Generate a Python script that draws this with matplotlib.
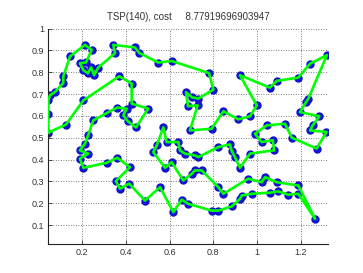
import matplotlib
matplotlib.use("Agg")
import matplotlib.pyplot as plt

title_text = "TSP(140), cost     8.77919696903947"

tour_x = [0.044, 0.044, 0.045, 0.052, 0.075, 0.113, 0.113, 0.144, 0.212, 0.243,
          0.217, 0.189, 0.205, 0.226, 0.240, 0.254, 0.273, 0.350, 0.342, 0.441,
          0.461, 0.548, 0.609, 0.780, 0.800, 0.731, 0.702, 0.675, 0.684, 0.728,
          0.693, 0.792, 0.846, 0.914, 0.968, 0.999, 0.922, 1.059, 1.090, 1.189,
          1.243, 1.320, 1.235, 1.224, 1.197, 1.285, 1.255, 1.243, 1.318, 1.273,
          1.159, 1.128, 1.044, 0.991, 1.021, 1.072, 1.078, 0.968, 0.922, 0.899,
          0.884, 0.876, 0.823, 0.731, 0.716, 0.670, 0.647, 0.640, 0.586, 0.571,
          0.541, 0.525, 0.579, 0.609, 0.662, 0.701, 0.716, 0.747, 0.823, 0.846,
          0.960, 1.021, 1.037, 1.090, 1.189, 1.266, 1.189, 1.143, 1.097, 1.059,
          0.976, 0.930, 0.922, 0.884, 0.823, 0.792, 0.685, 0.655, 0.617, 0.556,
          0.487, 0.414, 0.373, 0.354, 0.418, 0.360, 0.312, 0.205, 0.189, 0.227,
          0.189, 0.212, 0.227, 0.250, 0.312, 0.360, 0.403, 0.388, 0.409, 0.446,
          0.502, 0.426, 0.426, 0.369, 0.205, 0.125]
tour_y = [0.523, 0.610, 0.673, 0.694, 0.709, 0.750, 0.781, 0.872, 0.925, 0.902,
          0.845, 0.841, 0.809, 0.795, 0.822, 0.786, 0.821, 0.887, 0.925, 0.913,
          0.888, 0.844, 0.851, 0.796, 0.720, 0.679, 0.685, 0.708, 0.644, 0.648,
          0.533, 0.541, 0.621, 0.584, 0.598, 0.648, 0.786, 0.729, 0.760, 0.775,
          0.839, 0.878, 0.679, 0.663, 0.617, 0.598, 0.556, 0.533, 0.526, 0.450,
          0.500, 0.564, 0.556, 0.518, 0.480, 0.488, 0.442, 0.427, 0.362, 0.411,
          0.439, 0.469, 0.457, 0.411, 0.419, 0.427, 0.442, 0.480, 0.480, 0.547,
          0.465, 0.434, 0.362, 0.388, 0.304, 0.335, 0.350, 0.350, 0.273, 0.243,
          0.312, 0.296, 0.319, 0.296, 0.281, 0.128, 0.243, 0.239, 0.254, 0.248,
          0.243, 0.235, 0.220, 0.185, 0.166, 0.166, 0.197, 0.216, 0.159, 0.273,
          0.212, 0.290, 0.266, 0.301, 0.365, 0.408, 0.385, 0.362, 0.404, 0.427,
          0.442, 0.472, 0.511, 0.579, 0.613, 0.638, 0.633, 0.602, 0.575, 0.547,
          0.633, 0.656, 0.748, 0.781, 0.671, 0.560]

x_ticks = [0.2, 0.4, 0.6, 0.8, 1.0, 1.2]
x_tick_labels = ["0.2", "0.4", "0.6", "0.8", "1", "1.2"]
y_ticks = [0.1, 0.2, 0.3, 0.4, 0.5, 0.6, 0.7, 0.8, 0.9, 1.0]
y_tick_labels = ["0.1", "0.2", "0.3", "0.4", "0.5", "0.6", "0.7", "0.8", "0.9", "1"]

plt.rcParams['font.family'] = ['Liberation Sans', 'DejaVu Sans']

fig = plt.figure(figsize=(3.63, 2.73), dpi=100)
ax = fig.add_axes([48 / 363, 29 / 273, 280 / 363, 215.5 / 273])

lx = tour_x + tour_x[:1]
ly = tour_y + tour_y[:1]
ax.plot(tour_x, tour_y, linestyle='none', marker='o', markersize=5.0,
        markerfacecolor='#1515dd', markeredgecolor='#1010c8', zorder=2)
ax.plot(lx, ly, color='#00ff00', linewidth=1.9, zorder=3, solid_joinstyle='round')

ax.set_xlim(0.043, 1.325)
ax.set_ylim(0.013, 1.0)
ax.set_xticks(x_ticks)
ax.set_xticklabels(x_tick_labels)
ax.set_yticks(y_ticks)
ax.set_yticklabels(y_tick_labels)
ax.tick_params(direction='in', labelsize=6.5, length=3, width=0.6, pad=3,
               top=False, right=False, colors='#333333')
ax.grid(True, linestyle=(0, (1, 2)), linewidth=0.6, color='#555555')
ax.set_axisbelow(True)
for s in ['top', 'right']:
    ax.spines[s].set_visible(False)
for s in ['left', 'bottom']:
    ax.spines[s].set_linewidth(0.8)
    ax.spines[s].set_color('#222222')
ax.set_title(title_text, fontsize=7, pad=6, color='#333333')

fig.savefig("out.png", dpi=100)
